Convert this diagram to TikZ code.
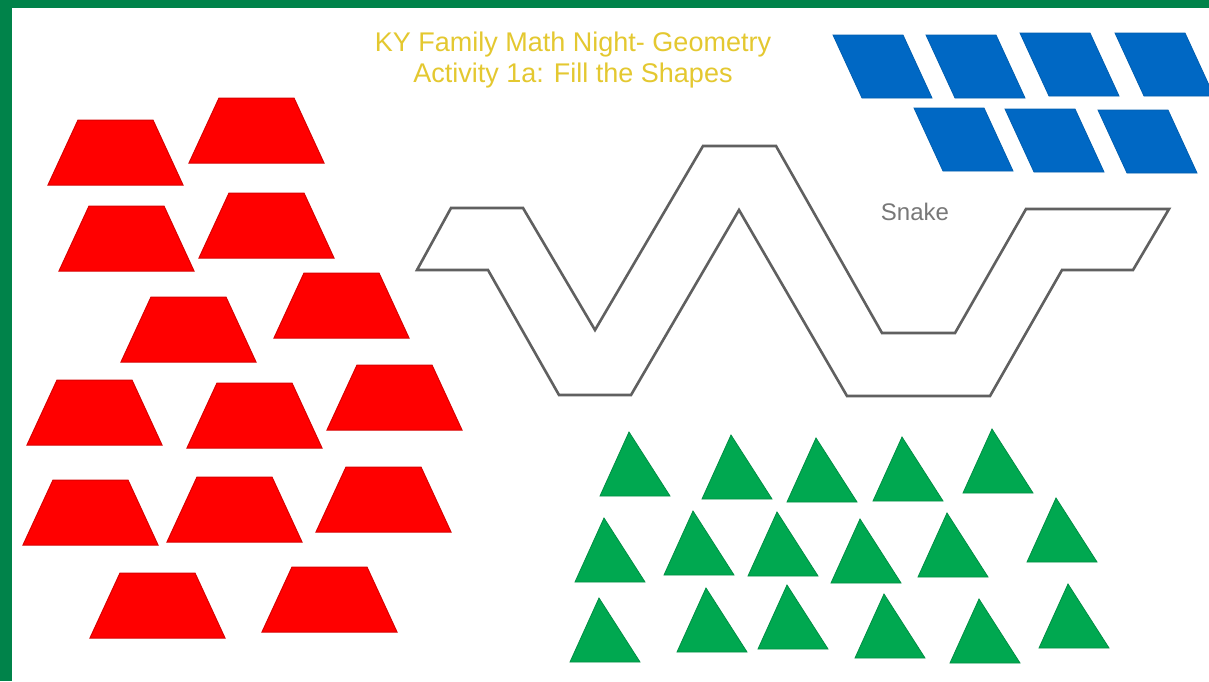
\documentclass[tikz,border=0pt]{standalone}
\usepackage{fontspec}
\setmainfont{Liberation Sans}
\usepackage{tikz}
\usetikzlibrary{calc, positioning}
\usepackage{xcolor}
\definecolor{frameG}{RGB}{0, 131, 74}
\definecolor{titleY}{RGB}{228, 200, 48}
\definecolor{trapR}{RGB}{255, 0, 0}
\definecolor{paraB}{RGB}{0, 104, 196}
\definecolor{triG}{RGB}{0, 168, 80}
\definecolor{snakeK}{RGB}{96, 96, 96}

\tikzset{
  trap/.style={fill=trapR, draw=trapR!85!black, line width=1pt, line join=miter},
  para/.style={fill=paraB, draw=paraB!90!black, line width=0.8pt},
  tri/.style={fill=triG, draw=triG!85!black, line width=0.8pt},
  snakeline/.style={draw=snakeK, line width=2.6pt, line join=miter}
}

\begin{document}
\begin{tikzpicture}[x=1pt, y=-1pt]
  \useasboundingbox (0,0) rectangle (1209,681);
  \fill[white] (0,0) rectangle (1209,681);

  % Frame (top and left)
  \fill[frameG] (0,0) rectangle (1209,8);
  \fill[frameG] (0,0) rectangle (12,681);

  % Title
  \node[titleY, align=center, font=\fontsize{27}{31}\selectfont] (title) at (573, 60)
    {KY Family Math Night- Geometry\\Activity 1a: Fill the Shapes};

  % Trapezoids, given by bottom-left corner
  \foreach \x/\y in {48/185, 189/163, 59/271, 199/258, 121/362, 274/338, 327/430,
                     27/445, 187/448, 23/545, 167/542, 316/532, 90/638, 262/632}
    \path[trap] (\x,\y) -- ++(135,0) -- ++(-30,-65) -- ++(-75,0) -- cycle;

  % Parallelograms, given by top-left corner
  \foreach \x/\y in {833/35, 926/35, 1020/33, 1115/33, 914/108, 1005/109, 1098/110}
    \path[para] (\x,\y) -- ++(70,0) -- ++(29,63) -- ++(-70,0) -- cycle;

  % Triangles, given by bottom-left corner
  \foreach \x/\y in {600/496, 702/499, 787/502, 873/501, 963/493,
                     575/582, 664/575, 748/576, 831/583, 918/577, 1027/562,
                     570/662, 677/652, 758/649, 855/658, 950/663, 1039/648}
    \path[tri] (\x,\y) -- ++(70,0) -- ++(-41,-64) -- cycle;

  % Snake outline
  \draw[snakeline] (451,208) -- (523,208) -- (595,330) -- (703,146) -- (776,146)
    -- (882,333) -- (955,333) -- (1026,209) -- (1169,209) -- (1133,270)
    -- (1062,270) -- (990,396) -- (847,396) -- (739,210) -- (631,395)
    -- (559,395) -- (488,270) -- (417,270) -- cycle;

  \node[snakeK!85, font=\fontsize{24}{28}\selectfont] (snakelabel) at (915, 212) {Snake};
\end{tikzpicture}
\end{document}
